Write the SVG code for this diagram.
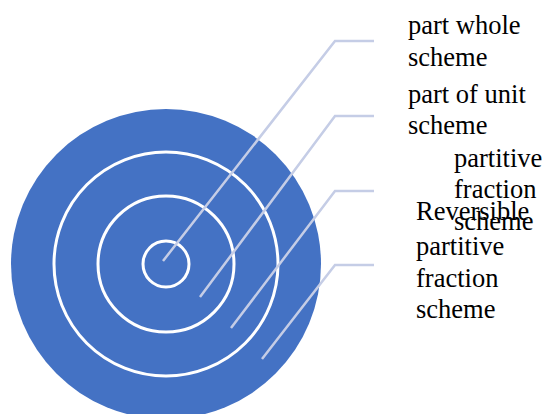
<svg xmlns="http://www.w3.org/2000/svg" width="547" height="414" viewBox="0 0 547 414">
  <style>
    .ring { fill: none; stroke: #FFFFFF; stroke-width: 3; }
    .leader { fill: none; stroke: #C5CDE6; stroke-width: 2.5; }
    .label { font-family: "Liberation Serif", "Times New Roman", serif; font-size: 26.5px; fill: #000000; }
  </style>
  <rect width="547" height="414" fill="#FFFFFF"/>

  <!-- target: filled disc with concentric white rings -->
  <g id="target">
    <circle cx="166" cy="264" r="155" fill="#4472C4"/>
    <circle class="ring" cx="166" cy="264" r="112"/>
    <circle class="ring" cx="166" cy="264" r="68"/>
    <circle class="ring" cx="166" cy="264" r="23"/>
  </g>

  <!-- leader lines from each ring to its label -->
  <g id="connectors">
    <polyline class="leader" points="163,261 335,41 374,41"/>
    <polyline class="leader" points="200,297 335,116 374,116"/>
    <polyline class="leader" points="231,328 335,191 374,191"/>
    <polyline class="leader" points="262,359 335,265 374,265"/>
  </g>

  <g id="label-part-whole">
    <text class="label" x="408" y="34">part whole</text>
    <text class="label" x="408" y="66">scheme</text>
  </g>
  <g id="label-part-of-unit">
    <text class="label" x="408" y="102.5">part of unit</text>
    <text class="label" x="408" y="134">scheme</text>
  </g>
  <g id="label-partitive">
    <text class="label" x="454" y="166.5">partitive</text>
    <text class="label" x="454" y="198">fraction</text>
    <text class="label" x="454" y="230">scheme</text>
  </g>
  <g id="label-reversible">
    <text class="label" x="416" y="220">Reversible</text>
    <text class="label" x="416" y="255">partitive</text>
    <text class="label" x="416" y="286.5">fraction</text>
    <text class="label" x="416" y="318">scheme</text>
  </g>
</svg>
